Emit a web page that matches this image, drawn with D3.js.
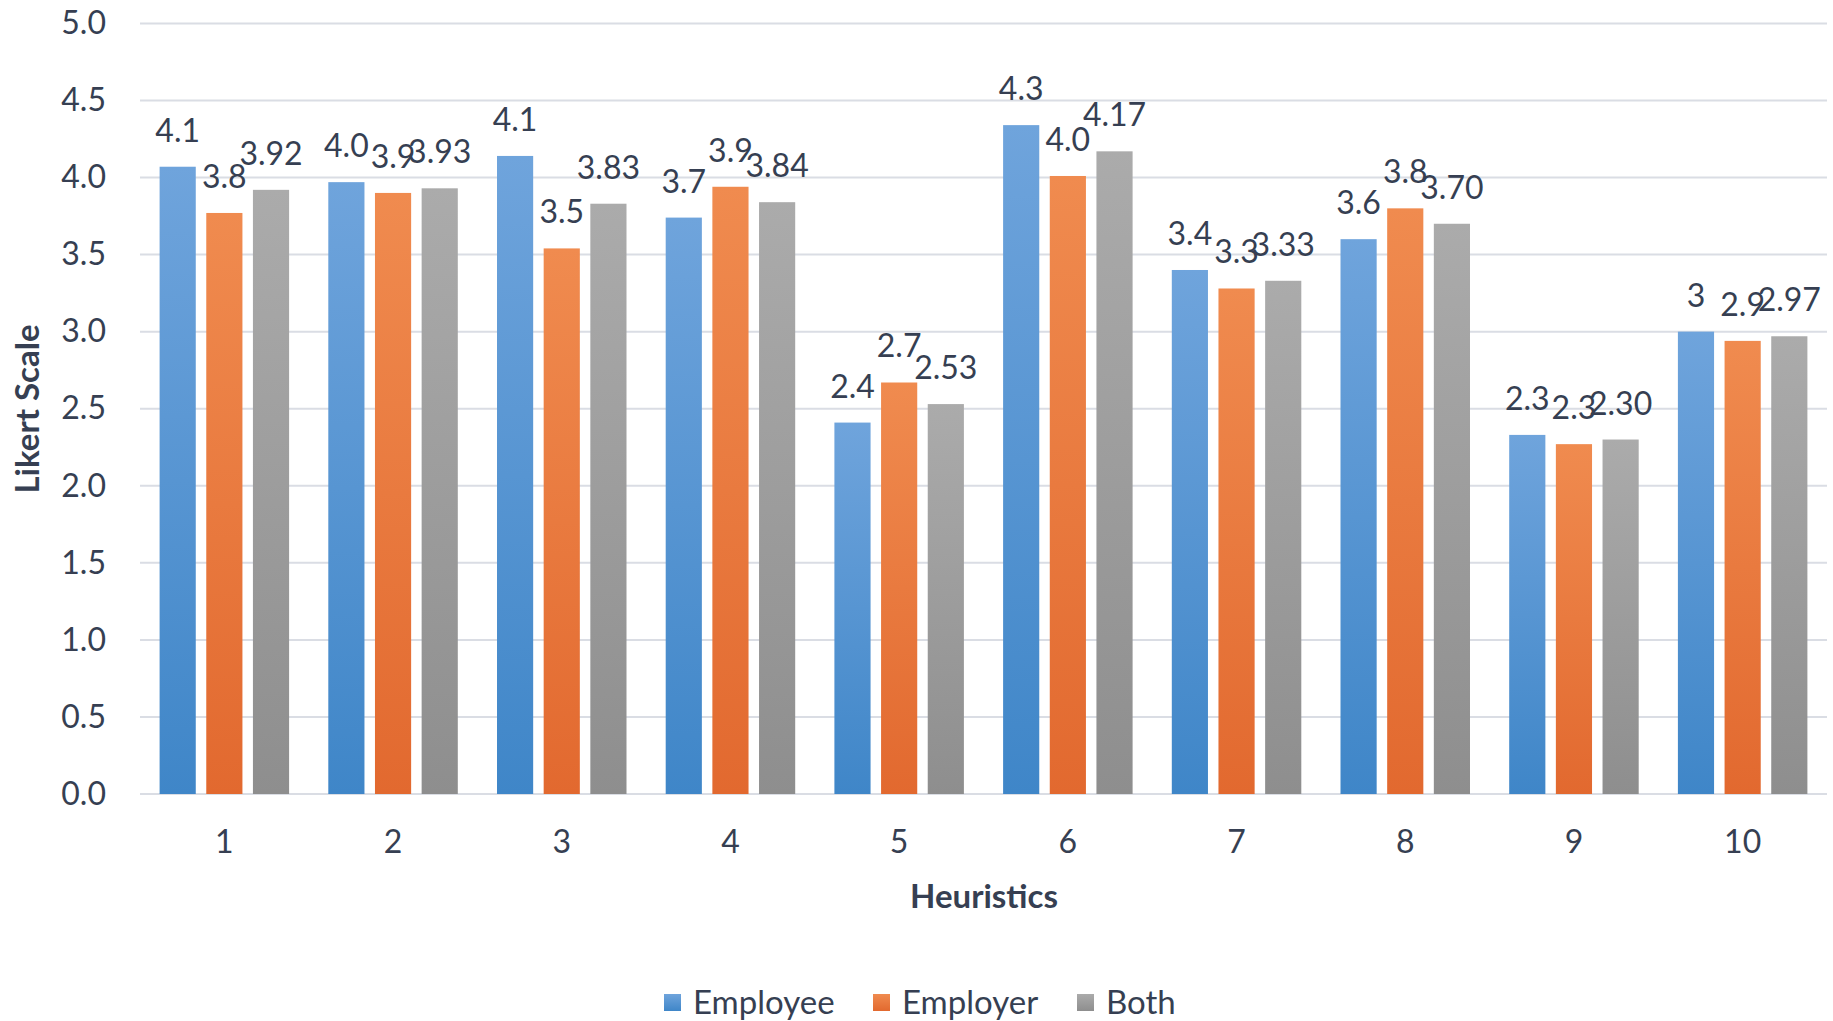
<!DOCTYPE html>
<html>
<head>
<meta charset="utf-8">
<script src="https://cdn.jsdelivr.net/npm/d3@7"></script>
<style>
  html, body { margin: 0; padding: 0; background: #fff; }
  svg { display: block; font-family: Lato, "Open Sans", sans-serif; }
</style>
</head>
<body>
<svg id="chart" width="1833" height="1021"></svg>
<script>
// Heuristic ratings on a 5-point Likert scale
const heuristics = ["1", "2", "3", "4", "5", "6", "7", "8", "9", "10"];
const seriesNames = ["Employee", "Employer", "Both"];
const employee = [4.07, 3.97, 4.14, 3.74, 2.41, 4.34, 3.40, 3.60, 2.33, 3];
const employer = [3.77, 3.90, 3.54, 3.94, 2.67, 4.01, 3.28, 3.80, 2.27, 2.94];
const both     = [3.92, 3.93, 3.83, 3.84, 2.53, 4.17, 3.33, 3.70, 2.30, 2.97];
const yTicks = [0, 0.5, 1, 1.5, 2, 2.5, 3, 3.5, 4, 4.5, 5];

const seriesValues = [employee, employer, both];
const colors = [
  { top: "#6fa4dc", bottom: "#3f86c8" },
  { top: "#f08b4f", bottom: "#e2692f" },
  { top: "#ababab", bottom: "#8e8e8e" }
];
const labelFormats = [
  v => Number.isInteger(v) ? String(v) : d3.format(".1f")(v),
  v => Number.isInteger(v) ? String(v) : d3.format(".1f")(v),
  d3.format(".2f")
];

const textColor = "#363f52";
const gridColor = "#dadde4";
const fontSize = "32px";

const svg = d3.select("#chart");

const margin = { left: 140, right: 6 };
const width = 1833;

const x0 = d3.scaleBand()
  .domain(heuristics)
  .range([margin.left, width - margin.right])
  .padding(0);

const x1 = d3.scaleBand()
  .domain(seriesNames)
  .range([0, x0.bandwidth()])
  .paddingInner(0.225)
  .paddingOuter(0.42);

const y = d3.scaleLinear()
  .domain([0, 5])
  .range([794, 23.4]);

// gradients for bar fills
const defs = svg.append("defs");
colors.forEach((c, i) => {
  const g = defs.append("linearGradient")
    .attr("id", "grad" + i)
    .attr("x1", 0).attr("y1", 0).attr("x2", 0).attr("y2", 1);
  g.append("stop").attr("offset", "0%").attr("stop-color", c.top);
  g.append("stop").attr("offset", "100%").attr("stop-color", c.bottom);
});

// horizontal gridlines
svg.append("g")
  .selectAll("line")
  .data(yTicks)
  .join("line")
  .attr("x1", margin.left)
  .attr("x2", width - margin.right)
  .attr("y1", d => y(d))
  .attr("y2", d => y(d))
  .attr("stroke", gridColor)
  .attr("stroke-width", 2);

// y axis tick labels
const yAxis = d3.axisLeft(y)
  .tickValues(yTicks)
  .tickFormat(d3.format(".1f"))
  .tickSize(0)
  .tickPadding(0);

svg.append("g")
  .attr("transform", "translate(106,0)")
  .call(yAxis)
  .call(g => g.select(".domain").remove())
  .call(g => g.selectAll("text")
    .attr("fill", textColor)
    .style("font-size", fontSize)
    .style("font-family", "Lato, sans-serif"));

// x axis tick labels
const xAxis = d3.axisBottom(x0).tickSize(0).tickPadding(0);
svg.append("g")
  .attr("transform", "translate(0,830)")
  .call(xAxis)
  .call(g => g.select(".domain").remove())
  .call(g => g.selectAll("text")
    .attr("fill", textColor)
    .style("font-size", fontSize)
    .style("font-family", "Lato, sans-serif"));

// bars
const groups = svg.append("g")
  .selectAll("g")
  .data(heuristics)
  .join("g")
  .attr("transform", d => `translate(${x0(d)},0)`);

groups.selectAll("rect")
  .data((d, i) => seriesNames.map((s, si) => ({ s, si, v: seriesValues[si][i] })))
  .join("rect")
  .attr("x", d => x1(d.s))
  .attr("width", x1.bandwidth())
  .attr("y", d => y(d.v))
  .attr("height", d => y(0) - y(d.v))
  .attr("fill", d => `url(#grad${d.si})`);

// data labels
groups.selectAll("text.value")
  .data((d, i) => seriesNames.map((s, si) => ({ s, si, v: seriesValues[si][i] })))
  .join("text")
  .attr("class", "value")
  .attr("x", d => x1(d.s) + x1.bandwidth() / 2)
  .attr("y", d => y(d.v) - 25)
  .attr("text-anchor", "middle")
  .attr("fill", textColor)
  .style("font-size", fontSize)
  .text(d => labelFormats[d.si](d.v));

// axis titles
svg.append("text")
  .attr("transform", "translate(39,409) rotate(-90)")
  .attr("text-anchor", "middle")
  .attr("fill", textColor)
  .style("font-size", "33px")
  .style("font-weight", "bold")
  .text("Likert Scale");

svg.append("text")
  .attr("x", 984)
  .attr("y", 908)
  .attr("text-anchor", "middle")
  .attr("fill", textColor)
  .style("font-size", "33px")
  .style("font-weight", "bold")
  .text("Heuristics");

// legend
const legendX = [664, 873, 1077];
const legend = svg.append("g")
  .selectAll("g")
  .data(seriesNames)
  .join("g")
  .attr("transform", (d, i) => `translate(${legendX[i]},994)`);

legend.append("rect")
  .attr("width", 17)
  .attr("height", 17)
  .attr("fill", (d, i) => `url(#grad${i})`);

legend.append("text")
  .attr("x", 29)
  .attr("y", 20)
  .attr("fill", textColor)
  .style("font-size", "33px")
  .text(d => d);
</script>
</body>
</html>
